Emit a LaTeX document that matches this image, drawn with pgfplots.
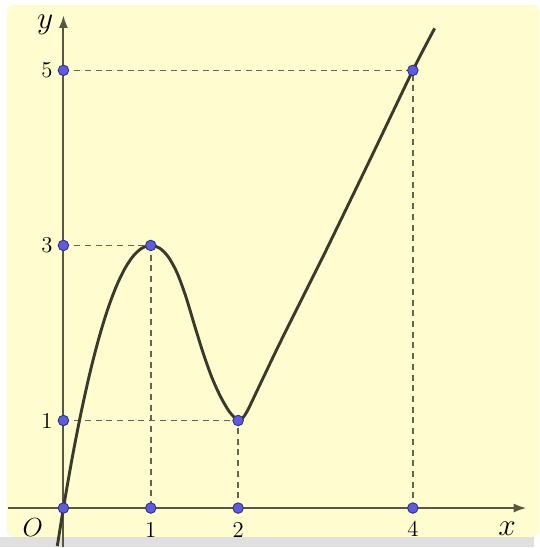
\documentclass[border=0pt]{standalone}
\usepackage{pgfplots}
\pgfplotsset{compat=1.18}
\usetikzlibrary{arrows.meta}
\definecolor{bgyellow}{RGB}{255,252,208}
\definecolor{axcol}{RGB}{88,88,66}
\definecolor{curvecol}{RGB}{58,58,42}
\definecolor{dashcol}{RGB}{100,100,80}
\definecolor{ptfill}{RGB}{92,92,222}
\definecolor{ptdraw}{RGB}{50,50,120}
\begin{document}
\begin{tikzpicture}
\begin{axis}[
  x=48.1pt, y=48.2pt,
  xmin=-0.726, xmax=5.389, ymin=-0.445, ymax=5.804,
  axis lines=none, clip=false,
  scale only axis,
]
% background
\fill[white] (axis cs:-0.726,-0.445) rectangle (axis cs:5.389,5.804);
\fill[black!12] (axis cs:-0.726,-0.445) rectangle (axis cs:5.389,-0.33);
\fill[bgyellow, rounded corners=4pt] (axis cs:-0.65,-0.33) rectangle (axis cs:5.45,5.75);
% dashed guides
\addplot[dashcol, line width=0.95pt, dash pattern=on 3.3pt off 2.6pt] coordinates {(0,5) (4,5) (4,0)};
\addplot[dashcol, line width=0.95pt, dash pattern=on 3.3pt off 2.6pt] coordinates {(0,3) (1,3) (1,0)};
\addplot[dashcol, line width=0.95pt, dash pattern=on 3.3pt off 2.6pt] coordinates {(0,1) (2,1) (2,0)};
% axes
\draw[axcol, line width=1.1pt, -{Latex[length=7pt,width=5pt]}] (axis cs:-0.63,0) -- (axis cs:5.3,0);
\draw[axcol, line width=1.1pt, -{Latex[length=7pt,width=5pt]}] (axis cs:0,-0.445) -- (axis cs:0,5.63);
% curve
\addplot[curvecol, line width=1.6pt, smooth] coordinates {
(-0.07,-0.435) (0,0) (0.1,0.57) (0.2,1.08) (0.3,1.53) (0.4,1.92) (0.5,2.25) (0.6,2.52) (0.7,2.73) (0.8,2.88) (0.9,2.97) (1,3)
(1.1,2.97) (1.2,2.87) (1.3,2.69) (1.4,2.42) (1.5,2.09) (1.6,1.77) (1.7,1.49) (1.8,1.27) (1.9,1.10) (2,1)
(2.05,1.025) (2.1,1.10) (2.15,1.20) (2.2,1.305) (2.3,1.515) (2.4,1.725) (2.5,1.93) (2.6,2.13) (2.8,2.53) (3.0,2.93)
(3.5,3.96) (4,5) (4.25,5.48)};
% points
\addplot[only marks, mark=*, mark size=2.9pt, mark options={fill=ptfill, draw=ptdraw, line width=0.5pt}]
 coordinates {(0,0) (1,0) (2,0) (4,0) (0,1) (0,3) (0,5) (1,3) (2,1) (4,5)};
% labels
\node[font=\fontsize{12.5}{14}\selectfont] at (axis cs:1,-0.25) {1};
\node[font=\fontsize{12.5}{14}\selectfont] at (axis cs:2,-0.25) {2};
\node[font=\fontsize{12.5}{14}\selectfont] at (axis cs:4,-0.24) {4};
\node[font=\fontsize{12.5}{14}\selectfont] at (axis cs:-0.19,5.0) {5};
\node[font=\fontsize{12.5}{14}\selectfont] at (axis cs:-0.19,3.0) {3};
\node[font=\fontsize{12.5}{14}\selectfont] at (axis cs:-0.19,1.0) {1};
\node[font=\fontsize{15}{16}\selectfont] at (axis cs:-0.35,-0.22) {$O$};
\node[font=\fontsize{19}{20}\selectfont] at (axis cs:5.08,-0.24) {$x$};
\node[font=\fontsize{19}{20}\selectfont] at (axis cs:-0.21,5.52) {$y$};
\end{axis}
\end{tikzpicture}
\end{document}
